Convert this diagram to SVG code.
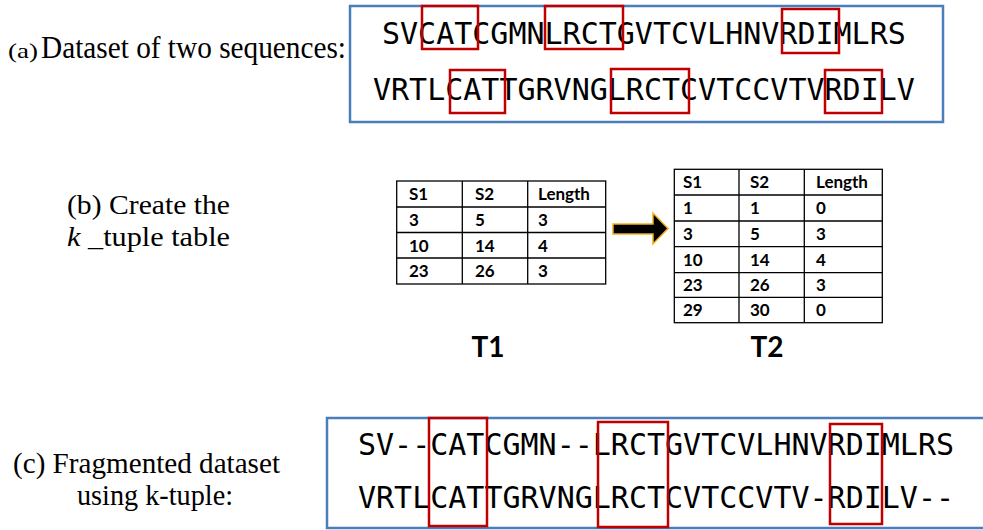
<svg xmlns="http://www.w3.org/2000/svg" width="983" height="530" viewBox="0 0 983 530">
<style>
.lab{font-family:"Liberation Serif","Times New Roman",serif;fill:#000}
.seq{font-family:"DejaVu Sans Mono",monospace;font-size:30px;fill:#000}
.blue{fill:#fff;stroke:#4A7EBB;stroke-width:2.5}
.red{fill:none;stroke:#C00000;stroke-width:2.5}
.tb{fill:none;stroke:#000;stroke-width:1.3}
.tt{font-family:"Lato","Open Sans",sans-serif;font-weight:bold;font-size:17px;fill:#000}
.big{font-family:"Lato","Open Sans",sans-serif;font-weight:bold;font-size:28px;fill:#000;text-anchor:middle}
</style>
<rect width="983" height="530" fill="#fff"/>

<g id="label-a">
<text class="lab" x="8" y="58" font-size="22" textLength="30" lengthAdjust="spacingAndGlyphs">(a)</text>
<text class="lab" x="41" y="58" font-size="32" textLength="305" lengthAdjust="spacingAndGlyphs">Dataset of two sequences:</text>
</g>

<g id="box-a">
<rect class="blue" x="350" y="6" width="593" height="116"/>
<text class="seq" x="382" y="44">SVCATCGMNLRCTGVTCVLHNVRDIMLRS</text>
<text class="seq" x="373" y="100">VRTLCATTGRVNGLRCTCVTCCVTVRDILV</text>
<rect class="red" x="422" y="6" width="56" height="43"/>
<rect class="red" x="545" y="6" width="78" height="43"/>
<rect class="red" x="782" y="9" width="57" height="44"/>
<rect class="red" x="450" y="70" width="55" height="43"/>
<rect class="red" x="611" y="69" width="78" height="44"/>
<rect class="red" x="825" y="70" width="57" height="43"/>
</g>

<g id="label-b">
<text class="lab" x="67" y="214" font-size="28" textLength="163" lengthAdjust="spacingAndGlyphs">(b) Create the</text>
<text class="lab" x="67" y="246" font-size="28" textLength="163" lengthAdjust="spacingAndGlyphs"><tspan font-style="italic">k</tspan> _tuple table</text>
</g>

<g id="table-t1">
<rect class="tb" x="396.7" y="181" width="209" height="103"/>
<path class="tb" d="M396.7 207H605.7M396.7 232.5H605.7M396.7 258H605.7M462.3 181V284M527.7 181V284"/>
<text class="tt" x="409" y="200">S1</text><text class="tt" x="475" y="200">S2</text><text class="tt" x="538" y="200">Length</text>
<text class="tt" x="409" y="226">3</text><text class="tt" x="475" y="226">5</text><text class="tt" x="538" y="226">3</text>
<text class="tt" x="409" y="251.5">10</text><text class="tt" x="475" y="251.5">14</text><text class="tt" x="538" y="251.5">4</text>
<text class="tt" x="409" y="277">23</text><text class="tt" x="475" y="277">26</text><text class="tt" x="538" y="277">3</text>
<text class="big" x="488" y="357">T1</text>
</g>

<g id="connectors">
<path d="M613 224H653V213L668 228.5L653 244V234H613Z" fill="#000" stroke="#F0B020" stroke-width="1.5" stroke-linejoin="miter"/>
</g>

<g id="table-t2">
<rect class="tb" x="674.3" y="169.3" width="208" height="153.4"/>
<path class="tb" d="M674.3 195H882.3M674.3 221H882.3M674.3 246.7H882.3M674.3 272.7H882.3M674.3 297.3H882.3M739 169.3V322.7M804.3 169.3V322.7"/>
<text class="tt" x="683" y="188">S1</text><text class="tt" x="750" y="188">S2</text><text class="tt" x="816" y="188">Length</text>
<text class="tt" x="683" y="214">1</text><text class="tt" x="750" y="214">1</text><text class="tt" x="816" y="214">0</text>
<text class="tt" x="683" y="240">3</text><text class="tt" x="750" y="240">5</text><text class="tt" x="816" y="240">3</text>
<text class="tt" x="683" y="265.5">10</text><text class="tt" x="750" y="265.5">14</text><text class="tt" x="816" y="265.5">4</text>
<text class="tt" x="683" y="291">23</text><text class="tt" x="750" y="291">26</text><text class="tt" x="816" y="291">3</text>
<text class="tt" x="683" y="316">29</text><text class="tt" x="750" y="316">30</text><text class="tt" x="816" y="316">0</text>
<text class="big" x="767" y="357">T2</text>
</g>

<g id="label-c">
<text class="lab" x="13" y="473" font-size="30" textLength="267" lengthAdjust="spacingAndGlyphs">(c) Fragmented dataset</text>
<text class="lab" x="77" y="505" font-size="30" textLength="156" lengthAdjust="spacingAndGlyphs">using k-tuple:</text>
</g>

<g id="box-c">
<rect class="blue" x="327" y="418" width="670" height="110"/>
<text class="seq" x="358" y="455">SV--CATCGMN--LRCTGVTCVLHNVRDIMLRS</text>
<text class="seq" x="358" y="508">VRTLCATTGRVNGLRCTCVTCCVTV-RDILV--</text>
<rect class="red" x="429" y="418" width="58" height="108"/>
<rect class="red" x="598" y="422" width="70" height="105"/>
<rect class="red" x="830" y="424" width="52" height="100"/>
</g>
</svg>
